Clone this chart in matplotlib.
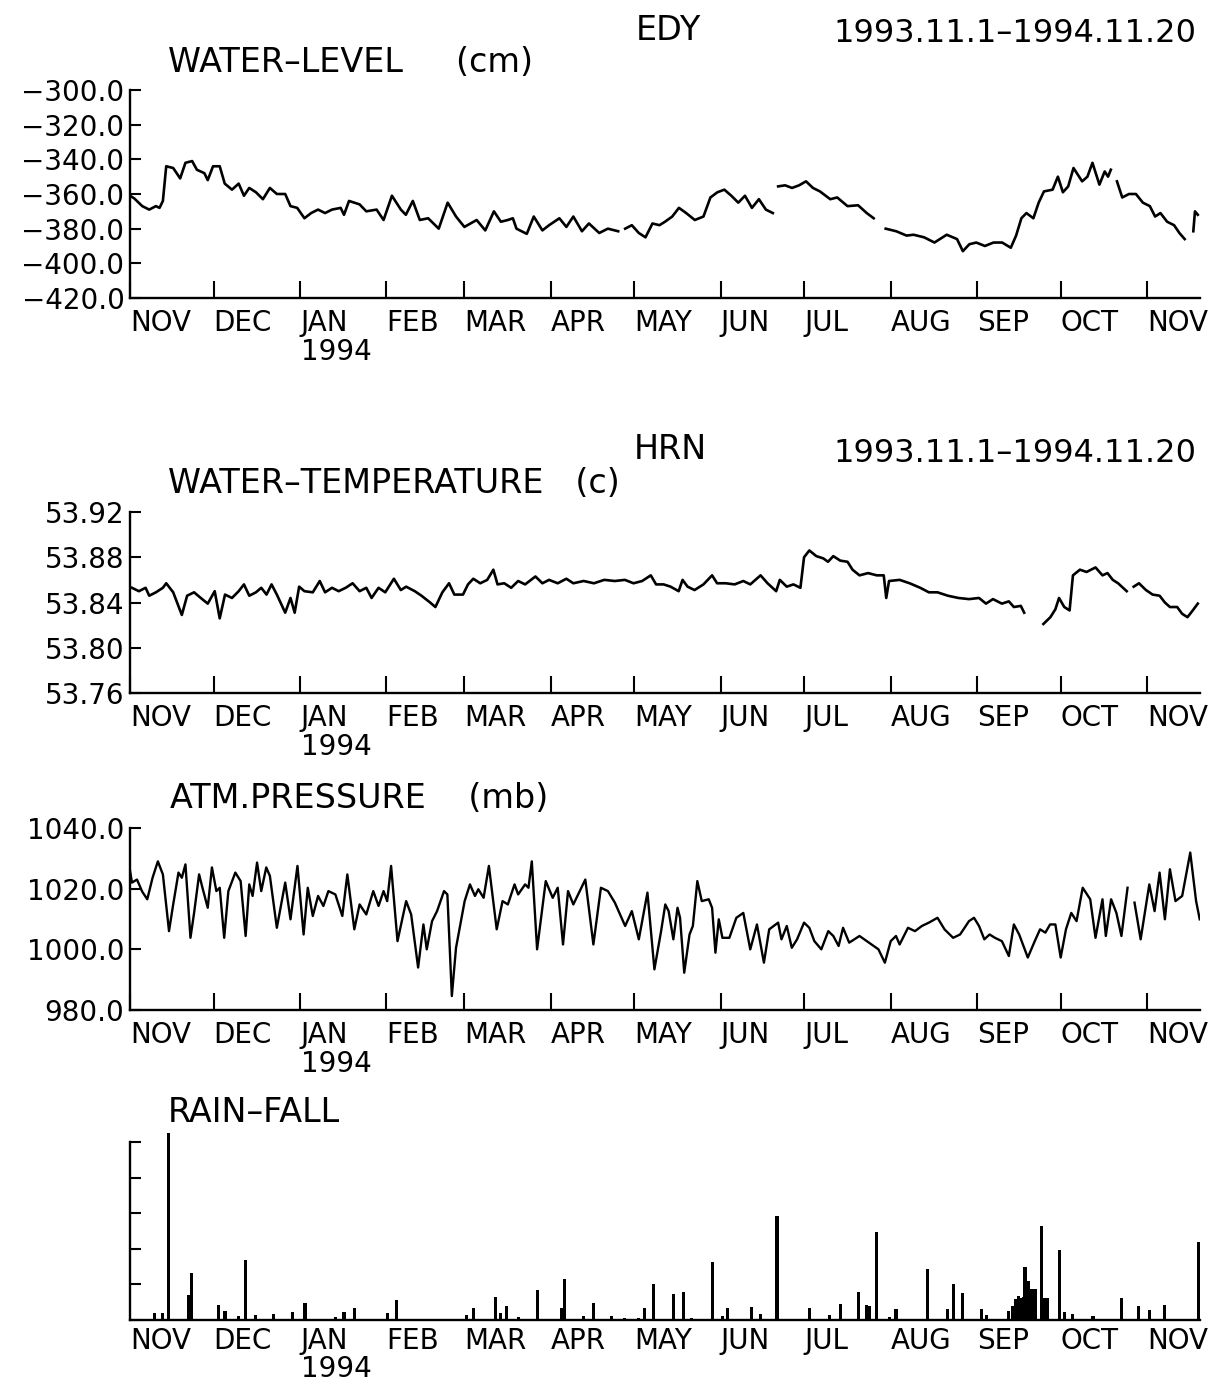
import matplotlib

matplotlib.use("Agg")
import matplotlib.pyplot as plt
import numpy as np

nan = np.nan

# days counted from 1993-11-01
month_days = [0, 30, 61, 92, 120, 151, 181, 212, 242, 273, 304, 334, 365]
month_names = ["NOV", "DEC", "JAN", "FEB", "MAR", "APR", "MAY",
               "JUN", "JUL", "AUG", "SEP", "OCT", "NOV"]

level_day = [
    0.0, 1.5, 4.4, 6.9, 9.3, 10.6, 11.8, 13.0, 15.5, 18.0, 19.9, 22.3, 24.0,
    26.7, 27.9, 29.8, 32.2, 34.0, 36.6, 39.0, 40.9, 42.8, 45.2, 47.7, 50.2,
    52.7, 55.7, 57.6, 60.0, 62.6, 65.0, 67.5, 70.0, 72.5, 75.6, 76.8, 78.6,
    82.4, 84.8, 88.5, 91.0, 94.0, 97.2, 99.0, 101.5, 104.0, 107.0, 110.8,
    114.0, 117.0, 120.0, 124.4, 127.5, 130.6, 133.1, 135.6, 137.4, 138.7,
    142.4, 144.9, 148.0, 150.4, 154.1, 156.6, 159.1, 162.2, 164.7, 168.4,
    171.5, 175.2, 176.5, 177.7, 180.1, 182.6, 185.0, 187.5, 190.0, 192.0,
    194.6, 197.0, 199.6, 202.7, 205.8, 208.3, 210.8, 213.3, 215.8, 218.3,
    220.7, 223.2, 225.7, 228.2, 230.7, 231.6, 232.6, 235.1, 237.6, 240.1,
    242.6, 245.1, 247.6, 251.3, 253.8, 257.5, 261.3, 264.4, 266.9, 269.0,
    271.2, 275.0, 278.7, 281.2, 285.0, 288.7, 293.1, 296.8, 298.9, 301.2,
    303.7, 306.8, 309.9, 313.0, 316.1, 318.0, 319.9, 321.7, 324.2, 326.1,
    328.0, 331.1, 333.0, 334.8, 336.7, 338.6, 341.7, 343.6, 345.4, 347.9,
    349.8, 351.0, 352.0, 353.0, 354.2, 356.1, 358.5, 361.0, 363.5, 366.0,
    367.9, 369.8, 372.2, 374.7, 376.6, 378.5, 380.0, 381.6, 382.2, 383.2,
]
level_cm = [
    -361, -362.5, -367, -369, -367, -368, -364, -344, -345, -351, -342, -341,
    -346, -348, -352, -344, -344, -354, -357.5, -354, -361, -356.5, -359,
    -363, -356.5, -360, -360, -367, -368, -374, -371, -369, -371, -369, -368,
    -372, -364, -366, -370, -369, -375, -361, -369, -372, -364, -375, -374,
    -380, -365, -373, -379, -375, -381, -370, -376, -375, -374, -380, -383,
    -373, -381, -378, -374, -379, -373, -381.5, -377, -382.5, -380, -381.5,
    nan, -380, -378, -382.5, -385, -377, -378, -376, -373, -368, -371, -375,
    -373, -362, -359, -357.5, -361, -365, -361, -368, -363, -369, -371, nan,
    -355.6, -355, -356.5, -355, -352.7, -356.5, -358.5, -363, -362, -367,
    -366.5, -371, -374, nan, -380, -381.5, -384, -383.5, -385, -388, -383.5,
    -386, -393, -389, -388, -390, -388, -388, -391, -384, -374, -371, -374,
    -365, -358.5, -357.5, -350, -359, -355.6, -345, -352.7, -350, -342,
    -354.6, -347, -350, -346, nan, -352.7, -362, -360, -360, -365, -367,
    -373, -371, -376, -378, -382.5, -386, nan, -381.5, -370, -372,
]

temp_day = [
    0.7, 3.2, 5.6, 6.9, 9.3, 11.8, 13.0, 15.5, 18.6, 20.5, 23.0, 25.4, 27.9,
    30.4, 32.2, 34.1, 36.6, 39.0, 40.9, 42.8, 45.2, 47.1, 49.0, 50.8, 52.7,
    55.7, 57.6, 59.1, 60.7, 62.6, 65.6, 68.1, 70.0, 72.5, 74.9, 77.4, 79.9,
    82.4, 84.8, 86.7, 89.2, 91.6, 94.7, 97.2, 99.1, 102.2, 104.6, 107.7,
    109.6, 112.1, 114.5, 116.4, 119.5, 121.3, 123.2, 125.7, 128.2, 130.4,
    131.9, 134.3, 136.8, 139.3, 141.8, 145.5, 148.0, 150.4, 153.5, 156.6,
    159.1, 162.8, 166.5, 170.2, 174.0, 177.6, 180.7, 183.8, 186.9, 188.8,
    191.5, 194.0, 196.9, 198.3, 200.1, 202.6, 205.8, 208.9, 210.7, 213.8,
    217.0, 220.1, 222.6, 226.3, 228.8, 231.9, 233.2, 235.7, 238.1, 240.6,
    241.9, 243.8, 246.3, 248.8, 250.5, 252.4, 254.9, 257.5, 259.3, 261.8,
    264.9, 268.0, 270.5, 271.4, 272.4, 276.2, 279.8, 283.6, 286.7, 289.8,
    293.5, 297.3, 301.1, 304.7, 307.2, 309.7, 312.9, 315.4, 317.2, 319.7,
    320.9, 324.0, 327.8, 330.3, 332.1, 333.4, 335.3, 337.2, 338.4, 340.9,
    343.3, 346.5, 349.0, 350.8, 352.7, 354.6, 357.7, 358.8, 360.2, 362.1,
    364.6, 367.0, 369.5, 371.4, 373.2, 375.8, 377.6, 379.5, 381.4, 383.2,
]
temp_c = [
    53.853, 53.850, 53.853, 53.846, 53.849, 53.853, 53.857, 53.849, 53.829,
    53.846, 53.849, 53.844, 53.839, 53.850, 53.826, 53.847, 53.844, 53.850,
    53.856, 53.846, 53.849, 53.853, 53.847, 53.856, 53.847, 53.831, 53.844,
    53.831, 53.854, 53.850, 53.849, 53.859, 53.849, 53.853, 53.850, 53.853,
    53.857, 53.850, 53.853, 53.844, 53.853, 53.849, 53.861, 53.851, 53.854,
    53.850, 53.846, 53.840, 53.836, 53.849, 53.857, 53.847, 53.847, 53.856,
    53.861, 53.857, 53.860, 53.869, 53.856, 53.857, 53.853, 53.859, 53.856,
    53.863, 53.857, 53.860, 53.857, 53.861, 53.857, 53.859, 53.857, 53.860,
    53.859, 53.860, 53.857, 53.859, 53.864, 53.856, 53.856, 53.854, 53.850,
    53.860, 53.854, 53.851, 53.856, 53.864, 53.857, 53.857, 53.856, 53.859,
    53.856, 53.864, 53.857, 53.850, 53.860, 53.854, 53.856, 53.853, 53.880,
    53.886, 53.881, 53.879, 53.876, 53.881, 53.877, 53.876, 53.869, 53.864,
    53.866, 53.864, 53.864, 53.844, 53.859, 53.860, 53.857, 53.853, 53.849,
    53.849, 53.846, 53.844, 53.843, 53.844, 53.839, 53.843, 53.839, 53.841,
    53.836, 53.837, 53.831, nan, 53.821, 53.827, 53.834, 53.844, 53.836,
    53.833, 53.864, 53.869, 53.867, 53.871, 53.864, 53.866, 53.860, 53.857,
    53.850, nan, 53.854, 53.857, 53.851, 53.847, 53.846, 53.840, 53.836,
    53.836, 53.830, 53.827, 53.833, 53.839,
]

press_day = [
    0.0, 0.7, 2.5, 4.4, 6.2, 8.1, 10.0, 11.8, 14.0, 15.5, 17.4, 18.6, 19.9,
    21.7, 23.0, 24.8, 26.0, 27.9, 29.4, 31.0, 32.2, 33.8, 35.3, 37.8, 39.7,
    41.5, 42.8, 44.0, 45.6, 47.1, 48.9, 50.2, 52.7, 55.7, 57.6, 60.1, 62.3,
    63.8, 65.6, 67.5, 69.4, 71.2, 73.7, 76.2, 78.0, 80.5, 82.4, 84.8, 87.3,
    89.2, 91.0, 92.3, 93.7, 96.0, 99.1, 100.9, 103.4, 105.3, 106.5, 108.4,
    110.2, 112.7, 113.9, 115.5, 117.0, 120.1, 122.0, 123.8, 125.0, 126.9,
    128.8, 131.6, 133.7, 135.6, 138.0, 139.3, 141.8, 143.0, 144.2, 146.1,
    149.2, 151.7, 153.5, 155.4, 157.2, 159.1, 163.4, 166.3, 169.0, 171.5,
    174.0, 177.7, 180.1, 182.6, 185.7, 188.2, 190.6, 192.1, 193.3, 195.0,
    196.5, 197.4, 198.9, 200.8, 202.0, 203.6, 205.2, 207.7, 208.9, 210.1,
    211.3, 212.6, 215.1, 217.6, 220.1, 222.6, 225.0, 227.5, 229.4, 232.6,
    233.8, 235.7, 237.5, 239.4, 241.9, 243.8, 245.6, 248.1, 250.6, 252.4,
    254.3, 255.9, 258.1, 261.8, 266.1, 268.6, 270.9, 273.0, 274.9, 276.2,
    279.2, 281.7, 284.2, 286.7, 289.8, 292.3, 295.4, 297.9, 301.1, 302.9,
    304.7, 306.6, 308.5, 310.4, 312.9, 315.4, 317.2, 319.1, 322.2, 324.7,
    326.6, 328.5, 330.2, 332.1, 334.0, 335.9, 337.8, 339.7, 341.9, 344.6,
    346.5, 349.0, 350.2, 352.1, 354.0, 355.8, 358.0, 359.0, 360.5, 362.7,
    365.8, 367.7, 369.5, 371.4, 373.2, 375.2, 377.6, 380.5, 382.6, 383.9,
]
press_mb = [
    1026, 1022, 1023, 1019, 1016.5, 1023.6, 1029, 1024.7, 1006, 1014.8,
    1025.3, 1023.6, 1028, 1003.8, 1012, 1024.7, 1020.3, 1013.7, 1027, 1019.2,
    1020.3, 1003.8, 1019.2, 1025.3, 1022.5, 1004.4, 1021.4, 1017.6, 1028.6,
    1019.2, 1027, 1024.2, 1007.1, 1022, 1009.9, 1027.5, 1004.9, 1020.3, 1011,
    1017.6, 1014.3, 1019.2, 1018.1, 1011, 1024.7, 1006.6, 1014.8, 1011.5,
    1019.2, 1014.3, 1019.2, 1015.9, 1027.5, 1002.7, 1015.9, 1011.5, 994,
    1008.2, 1000, 1009.3, 1012.6, 1019.2, 1018.1, 984.6, 1000.5, 1015.9,
    1021.4, 1017.6, 1019.8, 1017, 1027.5, 1006.6, 1015.9, 1014.8, 1021.4,
    1018.1, 1021.4, 1020.3, 1029, 1000, 1022.5, 1017, 1020.3, 1001.6, 1019.2,
    1014.8, 1023, 1001.6, 1020.3, 1019.2, 1015.4, 1007.7, 1012.6, 1003.3,
    1018.7, 993.4, 1006, 1014.8, 1012.6, 1003.3, 1013.7, 1010.4, 992.3,
    1004.9, 1007.7, 1022.5, 1015.9, 1016.5, 1013.7, 998.9, 1009.9, 1003.8,
    1003.8, 1010.4, 1012, 1000, 1008.2, 995.6, 1006.6, 1008.8, 1003.3,
    1007.7, 1000.5, 1003.3, 1008.8, 1007.1, 1002.7, 1000, 1006, 1004.4,
    1001.1, 1007.1, 1002.2, 1004.4, 1001.6, 1000, 995.6, 1002.7, 1004.4,
    1001.6, 1007.1, 1006, 1007.7, 1008.8, 1010.4, 1006.6, 1003.8, 1004.9,
    1009.3, 1010.4, 1007.7, 1003.3, 1004.9, 1003.8, 1002.7, 997.8, 1008.2,
    1004.9, 997.3, 1002.7, 1006.6, 1005.5, 1008.2, 1008.2, 997.3, 1006.6,
    1012, 1009.3, 1020.3, 1016.5, 1003.8, 1016.5, 1004.4, 1016.5, 1012,
    1004.4, 1020.3, nan, 1015.4, 1003.3, 1021.4, 1012.6, 1025.3, 1009.9,
    1026.4, 1015.9, 1017.6, 1031.9, 1015.9, 1009.9,
]

rain_day = [
    8.7, 11.8, 13.7, 21.1, 22.0, 31.6, 34.1, 39.0, 41.3, 45.2, 51.4, 58.2,
    62.8, 73.7, 76.8, 80.5, 92.3, 95.7, 120.7, 123.4, 131.2, 133.1, 135.0,
    139.3, 146.1, 154.8, 156.0, 162.8, 166.5, 172.7, 177.4, 182.6, 184.5,
    187.9, 195.2, 198.6, 201.4, 209.2, 212.6, 214.5, 222.9, 226.3, 232.2,
    241.5, 244.0, 251.2, 254.9, 261.5, 264.3, 265.3, 268.0, 272.7, 274.9,
    286.1, 293.3, 295.4, 298.6, 305.7, 307.5, 315.4, 316.6, 317.8, 318.7,
    319.7, 320.5, 321.2, 322.5, 323.7, 324.8, 327.0, 328.2, 329.4, 333.6,
    335.3, 338.4, 345.6, 355.9, 361.9, 365.8, 371.1, 383.4,
]
rain_amt = [
    0.19, 0.19, 5.26, 0.7, 1.31, 0.42, 0.25, 0.12, 1.68, 0.14, 0.16, 0.23,
    0.47, 0.09, 0.23, 0.33, 0.19, 0.56, 0.14, 0.35, 0.65, 0.19, 0.39, 0.09,
    0.84, 0.33, 1.14, 0.12, 0.47, 0.12, 0.07, 0.07, 0.33, 1.0, 0.73, 0.78,
    0.06, 1.64, 0.12, 0.34, 0.37, 0.17, 2.93, 0.03, 0.33, 0.15, 0.45, 0.78,
    0.43, 0.38, 2.48, 0.09, 0.31, 1.43, 0.31, 1.01, 0.75, 0.31, 0.15, 0.24,
    0.4, 0.59, 0.68, 0.63, 0.65, 1.5, 1.1, 0.87, 0.87, 2.65, 0.63, 0.63,
    1.98, 0.23, 0.16, 0.12, 0.63, 0.4, 0.27, 0.43, 2.2,
]

W, H = 1216, 1385
FS = 20
plt.rcParams["font.family"] = ["DejaVu Sans"]

fig = plt.figure(figsize=(W / 100, H / 100), dpi=100)


def px(x, y):
    return x / W, 1 - y / H


def make_axes(top, bottom, ylim, yticks, fmt, month_ticks=True,
              xpad=8, year_off=-29):
    ax = fig.add_axes([130 / W, 1 - bottom / H, 1070 / W, (bottom - top) / H])
    ax.set_xlim(0, 384)
    ax.set_ylim(*ylim)
    for side in ("top", "right"):
        ax.spines[side].set_visible(False)
    for side in ("left", "bottom"):
        ax.spines[side].set_linewidth(1.7)
    ax.set_yticks(yticks)
    if fmt:
        ax.set_yticklabels([fmt.format(v).replace("-", "\u2212") for v in yticks])
    else:
        ax.set_yticklabels([])
    ax.tick_params(axis="y", direction="in", length=8, width=1.5,
                   labelsize=FS, pad=4)
    ax.set_xticks(month_days, month_names)
    ax.tick_params(axis="x", direction="in", length=12 if month_ticks else 0,
                   width=1.5, labelsize=FS, pad=xpad)
    for lbl in ax.get_xticklabels():
        lbl.set_horizontalalignment("left")
    ax.annotate("1994", xy=(61, 0), xycoords=("data", "axes fraction"),
                xytext=(1, year_off), textcoords="offset points",
                ha="left", va="top", fontsize=FS)
    ax.patch.set_alpha(0)
    return ax


ax1 = make_axes(90, 298, (-420, -300), np.arange(-300, -421, -20), "{:.1f}")
ax1.plot(level_day, level_cm, color="black", lw=1.9)

ax2 = make_axes(512, 693, (53.76, 53.92), [53.76, 53.80, 53.84, 53.88, 53.92],
                "{:.2f}")
ax2.plot(temp_day, temp_c, color="black", lw=1.9)

ax3 = make_axes(828, 1010, (980, 1040), [980, 1000, 1020, 1040], "{:.1f}")
ax3.plot(press_day, press_mb, color="black", lw=1.7)

ax4 = make_axes(1142, 1320, (0, 5), [0, 1, 2, 3, 4, 5], None,
                month_ticks=False, xpad=5, year_off=-25.5)
ax4.bar(rain_day, rain_amt, width=1.1, color="black", clip_on=False)

TS = 24
fig.text(*px(668, 30), "EDY", fontsize=TS, ha="center", va="center")
fig.text(*px(1196, 33), "1993.11.1\u20131994.11.20", fontsize=23,
         ha="right", va="center")
fig.text(*px(168, 62), "WATER\u2013LEVEL     (cm)", fontsize=TS,
         ha="left", va="center")
fig.text(*px(670, 450), "HRN", fontsize=TS, ha="center", va="center")
fig.text(*px(1196, 453), "1993.11.1\u20131994.11.20", fontsize=23,
         ha="right", va="center")
fig.text(*px(168, 483), "WATER\u2013TEMPERATURE   (c)", fontsize=TS,
         ha="left", va="center")
fig.text(*px(170, 798), "ATM.PRESSURE    (mb)", fontsize=TS,
         ha="left", va="center")
fig.text(*px(168, 1112), "RAIN\u2013FALL", fontsize=TS, ha="left", va="center")

fig.savefig("out.png", dpi=100, facecolor="white")
